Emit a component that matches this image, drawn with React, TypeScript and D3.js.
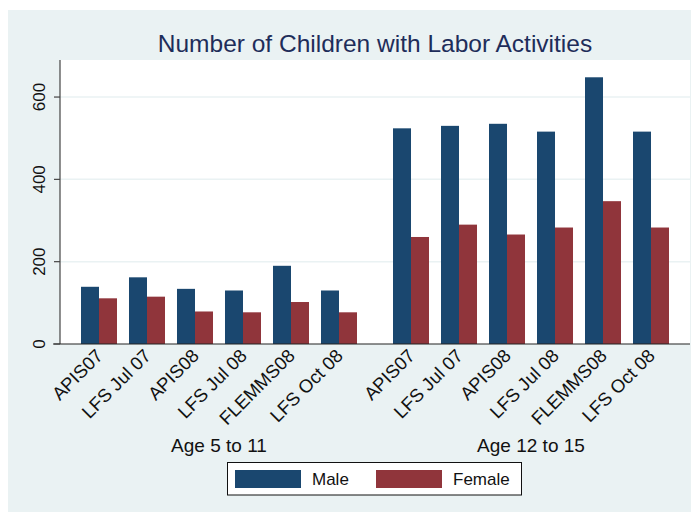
import React from "react";
import * as d3 from "d3";

const title = "Number of Children with Labor Activities";
const groups = ["Age 5 to 11", "Age 12 to 15"];
const surveys = ["APIS07", "LFS Jul 07", "APIS08", "LFS Jul 08", "FLEMMS08", "LFS Oct 08"];
const seriesNames = ["Male", "Female"];
const male5to11 = [139, 162, 134, 130, 190, 130];
const female5to11 = [111, 115, 79, 77, 102, 77];
const male12to15 = [524, 530, 535, 516, 648, 516];
const female12to15 = [260, 290, 266, 283, 347, 283];
const yTicks = [0, 200, 400, 600];

const colors = ["#1a476f", "#90353b"];
const bg = "#eaf2f3";
const font = "'Liberation Sans', Arial, Helvetica, sans-serif";

export default function App() {
  const W = 699;
  const H = 512;
  const left = 60, right = 690, top = 60, bottom = 344;

  const y = d3.scaleLinear().domain([0, 690]).range([bottom, top]);
  const xGroup = d3.scaleBand().domain(groups).range([left, right]).paddingInner(0.1154).paddingOuter(0.0673);
  const xSurvey = d3.scaleBand().domain(surveys).range([0, xGroup.bandwidth()]).paddingInner(0.25).paddingOuter(0);
  const xSex = d3.scaleBand().domain(seriesNames).range([0, xSurvey.bandwidth()]);

  const data = [
    { group: groups[0], vals: [male5to11, female5to11] },
    { group: groups[1], vals: [male12to15, female12to15] },
  ];

  return (
    <svg width={W - 8} height={H - 8} style={{ display: "block" }}>
      <g transform="translate(-8,-8)">
        <rect x={8} y={10} width={W - 8} height={H - 10} fill={bg} />
        <rect x={left} y={top} width={right - left} height={bottom - top} fill="#ffffff" />
        {yTicks.filter((t) => t > 0).map((t) => (
          <line key={"g" + t} x1={left} x2={right} y1={y(t)} y2={y(t)} stroke={bg} strokeWidth={1.5} />
        ))}
        <text x={375} y={52} textAnchor="middle" fontFamily={font} fontSize={24.5} fill="#1e2d5a">
          {title}
        </text>
        {data.map((d) =>
          surveys.map((s, i) =>
            seriesNames.map((sx, k) => {
              const v = d.vals[k][i];
              const x0 = (xGroup(d.group) as number) + (xSurvey(s) as number) + (xSex(sx) as number);
              return (
                <rect
                  key={d.group + s + sx}
                  x={x0}
                  y={y(v)}
                  width={xSex.bandwidth()}
                  height={y(0) - y(v)}
                  fill={colors[k]}
                />
              );
            })
          )
        )}
        <line x1={left} x2={left} y1={top} y2={bottom} stroke="#444" strokeWidth={1.2} />
        <line x1={left - 7} x2={right} y1={bottom} y2={bottom} stroke="#222" strokeWidth={1.2} />
        {yTicks.map((t) => (
          <g key={"t" + t}>
            <line x1={left - 6} x2={left} y1={y(t)} y2={y(t)} stroke="#444" strokeWidth={1.2} />
            <text
              transform={`translate(${left - 15},${y(t)}) rotate(-90)`}
              textAnchor="middle"
              fontFamily={font}
              fontSize={17}
              fill="#111"
            >
              {t}
            </text>
          </g>
        ))}
        {data.map((d) =>
          surveys.map((s) => {
            const cx = (xGroup(d.group) as number) + (xSurvey(s) as number) + xSurvey.bandwidth() / 2;
            return (
              <text
                key={"l" + d.group + s}
                transform={`translate(${cx + 5},${bottom + 13}) rotate(-45)`}
                textAnchor="end"
                fontFamily={font}
                fontSize={18.5}
                fill="#111"
              >
                {s}
              </text>
            );
          })
        )}
        {groups.map((g) => (
          <text
            key={"grp" + g}
            x={(xGroup(g) as number) + xGroup.bandwidth() / 2}
            y={452}
            textAnchor="middle"
            fontFamily={font}
            fontSize={19}
            fill="#111"
          >
            {g}
          </text>
        ))}
        <g>
          <rect x={227.5} y={462.5} width={294} height={32.5} fill="#ffffff" stroke="#111" strokeWidth={1} />
          {seriesNames.map((n, k) => {
            const sx = k === 0 ? 235 : 376;
            return (
              <g key={"lg" + n}>
                <rect x={sx} y={470} width={66} height={18} fill={colors[k]} />
                <text x={sx + 77} y={485} fontFamily={font} fontSize={17} fill="#111">
                  {n}
                </text>
              </g>
            );
          })}
        </g>
      </g>
    </svg>
  );
}
